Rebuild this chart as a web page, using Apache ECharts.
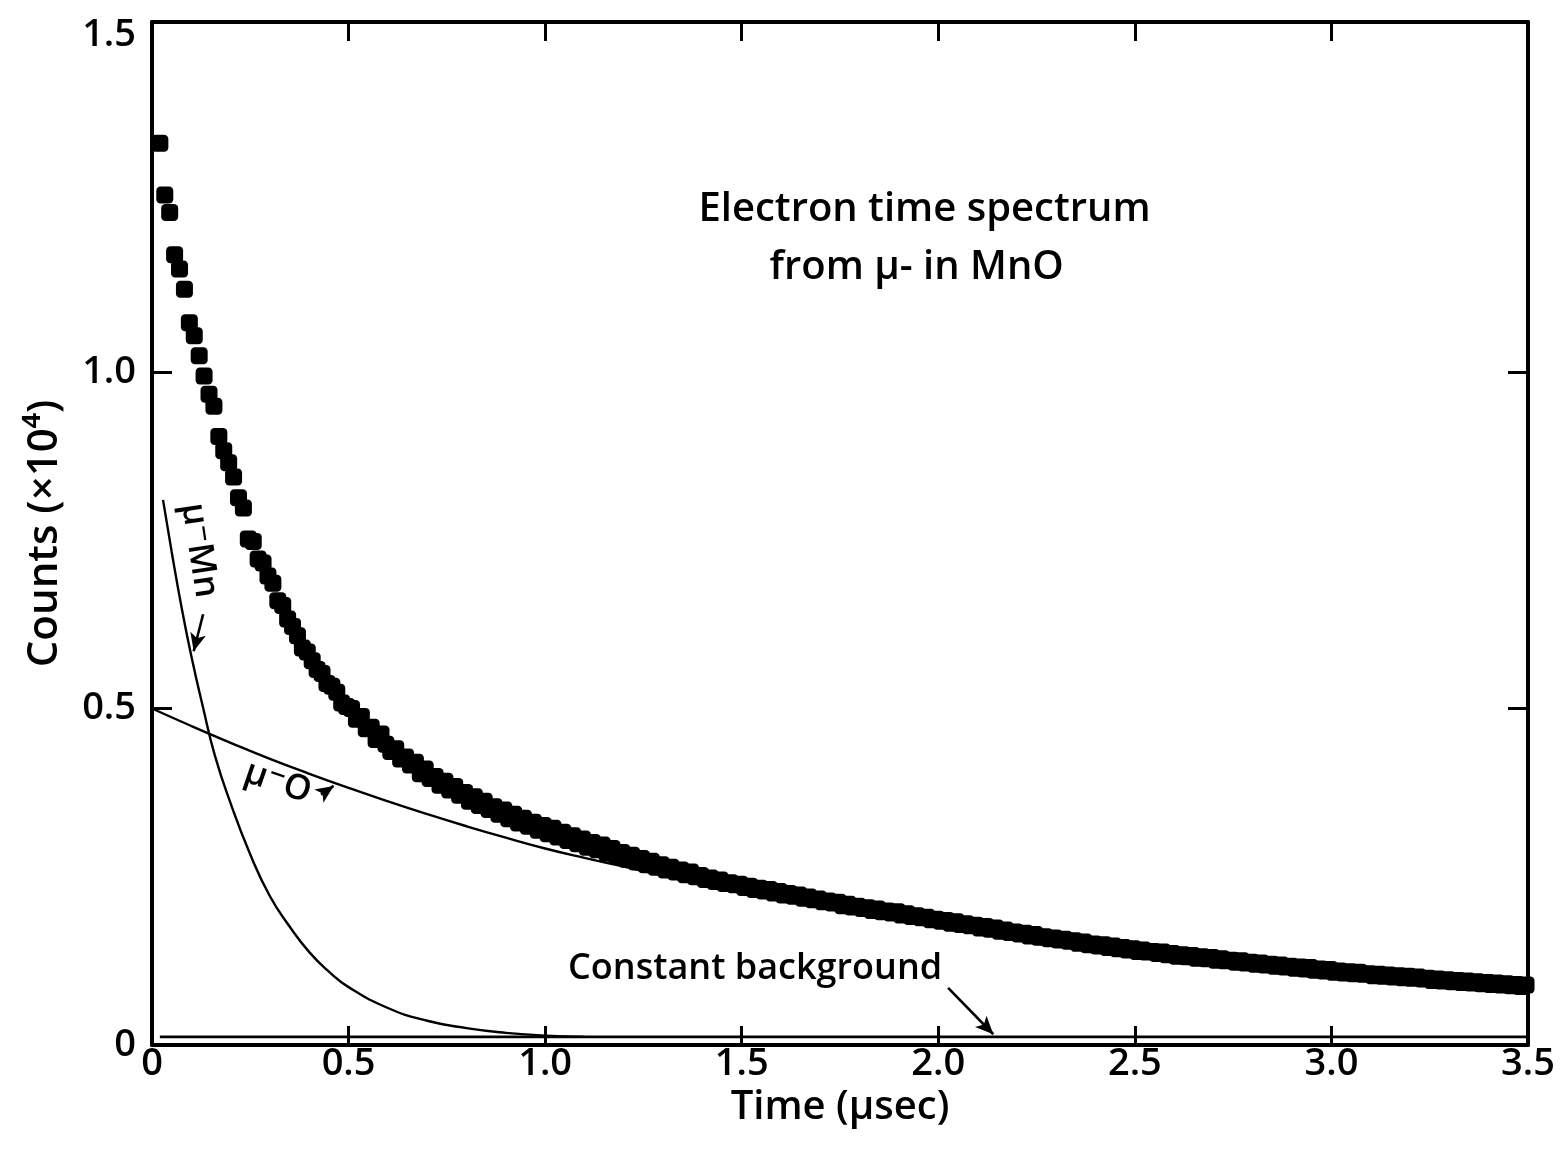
<!DOCTYPE html>
<html><head><meta charset="utf-8">
<script src="https://cdn.jsdelivr.net/npm/echarts@6/dist/echarts.min.js"></script>
<style>html,body{margin:0;padding:0;background:#fff}#c{width:1560px;height:1153px}</style>
</head><body><div id="c"></div>
<script>
// ---- data (counts in units of 10^4) ----
const firstChannelTime = 0.02;   // µsec
const channelWidth = 0.0125;     // µsec
const counts = [
1.340,1.263,1.237,1.174,1.153,1.123,1.073,1.054,1.024,0.994,0.967,0.949,0.904,0.883,0.865,0.844,
0.813,0.798,0.752,0.748,0.722,0.716,0.697,0.686,0.660,0.653,0.633,0.622,0.608,0.590,0.584,0.571,
0.558,0.552,0.537,0.533,0.524,0.508,0.503,0.500,0.484,0.488,0.470,0.472,0.454,0.462,0.447,0.436,
0.440,0.425,0.428,0.416,0.420,0.403,0.410,0.396,0.399,0.386,0.392,0.379,0.384,0.371,0.375,0.362,
0.369,0.356,0.362,0.350,0.354,0.343,0.349,0.336,0.343,0.330,0.337,0.325,0.331,0.319,0.326,0.314,
0.322,0.309,0.316,0.304,0.311,0.299,0.306,0.294,0.301,0.290,0.297,0.285,0.292,0.280,0.286,0.276,
0.282,0.272,0.277,0.268,0.273,0.264,0.268,0.260,0.264,0.257,0.260,0.253,0.257,0.250,0.252,0.246,
0.248,0.243,0.245,0.240,0.241,0.238,0.239,0.234,0.236,0.231,0.233,0.229,0.231,0.226,0.228,0.223,
0.225,0.221,0.223,0.218,0.220,0.216,0.217,0.213,0.214,0.211,0.212,0.207,0.209,0.205,0.206,0.203,
0.204,0.200,0.202,0.198,0.199,0.196,0.198,0.193,0.195,0.191,0.192,0.189,0.190,0.186,0.187,0.184,
0.185,0.181,0.183,0.179,0.180,0.177,0.178,0.174,0.176,0.172,0.174,0.169,0.171,0.167,0.168,0.165,
0.166,0.162,0.164,0.160,0.161,0.158,0.159,0.156,0.157,0.154,0.155,0.151,0.153,0.149,0.150,0.147,
0.149,0.145,0.147,0.143,0.145,0.141,0.143,0.139,0.141,0.138,0.139,0.136,0.138,0.134,0.136,0.132,
0.134,0.131,0.133,0.129,0.131,0.128,0.130,0.126,0.128,0.125,0.126,0.123,0.125,0.122,0.123,0.120,
0.122,0.119,0.120,0.117,0.119,0.116,0.117,0.114,0.116,0.113,0.115,0.111,0.113,0.110,0.112,0.108,
0.110,0.107,0.109,0.106,0.108,0.105,0.106,0.103,0.105,0.102,0.104,0.101,0.103,0.100,0.102,0.099,
0.101,0.098,0.099,0.096,0.098,0.095,0.097,0.094,0.096,0.093,0.095,0.092,0.094,0.091,0.093,0.090,
0.092,0.089,0.091,0.088,0.090,0.087,0.089
];
// fitted μ⁻Mn component
const mnTime   = [0.028,0.05,0.075,0.10,0.13,0.16,0.20,0.25,0.30,0.35,0.40,0.45,0.50,0.60,0.70,0.80,0.90,1.00,1.10];
const mnCounts = [0.810,0.733,0.651,0.578,0.501,0.430,0.359,0.283,0.221,0.176,0.138,0.109,0.086,0.055,0.036,0.025,0.018,0.014,0.012];
// fitted μ⁻O component
const oTime   = [0,0.1,0.2,0.3,0.4,0.5,0.6,0.7,0.8,0.9,1.0,1.1,1.2,1.3,1.35];
const oCounts = [0.500,0.474,0.449,0.425,0.403,0.382,0.362,0.343,0.325,0.308,0.292,0.278,0.265,0.252,0.247];
// constant background
const bgTime   = [0.02, 3.5];
const bgCounts = [0.012, 0.012];
const xTickValues = [0,0.5,1.0,1.5,2.0,2.5,3.0,3.5];
const yTickValues = [0,0.5,1.0,1.5];
const innerTicks = [0.5,1.0,1.5,2.0,2.5,3.0];
const yInnerTicks = [0.5,1.0];

const FONT = '"Open Sans", "DejaVu Sans", sans-serif';
const chart = echarts.init(document.getElementById('c'), null, {renderer:'canvas'});
const fmt = v => v === 0 ? '0' : v.toFixed(1);
const axisLineStyle = {show:true, onZero:false, lineStyle:{color:'#000', width:4}};
const tickStyle = {color:'#000', width:3};
const labelStyle = {color:'#000', fontFamily:FONT, fontSize:38, fontWeight:600};

chart.setOption({
  animation:false,
  backgroundColor:'#fff',
  grid:{left:152, right:32, top:22, bottom:108, containLabel:false},
  xAxis:[
    {type:'value', min:0, max:3.5, interval:0.5, position:'bottom',
     axisLine:axisLineStyle,
     axisTick:{show:true, inside:true, length:19, lineStyle:tickStyle, customValues:innerTicks},
     axisLabel:Object.assign({margin:0, formatter:fmt, customValues:xTickValues}, labelStyle),
     splitLine:{show:false},
     name:'Time (μsec)', nameLocation:'middle', nameGap:37,
     nameTextStyle:Object.assign({}, labelStyle, {fontSize:40})},
    {type:'value', min:0, max:3.5, interval:0.5, position:'top',
     axisLine:axisLineStyle,
     axisTick:{show:true, inside:true, length:19, lineStyle:tickStyle, customValues:innerTicks},
     axisLabel:{show:false}, splitLine:{show:false}}
  ],
  yAxis:[
    {type:'value', min:0, max:1.52, interval:0.5, position:'left',
     axisLine:axisLineStyle,
     axisTick:{show:true, inside:true, length:20, lineStyle:tickStyle, customValues:yInnerTicks},
     axisLabel:Object.assign({margin:16, formatter:fmt, customValues:yTickValues}, labelStyle),
     splitLine:{show:false},
     name:'Counts (×10⁴)', nameLocation:'middle', nameGap:86, nameRotate:90,
     nameTextStyle:Object.assign({}, labelStyle, {fontSize:42})},
    {type:'value', min:0, max:1.52, interval:0.5, position:'right',
     axisLine:axisLineStyle,
     axisTick:{show:true, inside:true, length:20, lineStyle:tickStyle, customValues:yInnerTicks},
     axisLabel:{show:false}, splitLine:{show:false}}
  ],
  series:[
    {type:'line', name:'μ⁻O', data:oTime.map((t,i)=>[t,oCounts[i]]), smooth:true, showSymbol:false,
     lineStyle:{color:'#000', width:2.4}, z:2, silent:true},
    {type:'line', name:'μ⁻Mn', data:mnTime.map((t,i)=>[t,mnCounts[i]]), smooth:true, showSymbol:false,
     lineStyle:{color:'#000', width:2.4}, z:2, silent:true},
    {type:'line', name:'background', data:bgTime.map((t,i)=>[t,bgCounts[i]]), showSymbol:false,
     lineStyle:{color:'#000', width:2.6}, z:2, silent:true,
     markLine:{silent:true, symbol:['none','arrow'], symbolSize:[12,18], label:{show:false},
       lineStyle:{color:'#000', width:2.6, type:'solid'},
       data:[
         [{coord:[2.025,0.085]},{coord:[2.14,0.016]}],
         [{coord:[0.13,0.64]},{coord:[0.106,0.585]}],
         [{coord:[0.43,0.372]},{coord:[0.462,0.385]}]
       ]}},
    {type:'scatter', name:'data', data:counts.map((v,i)=>[firstChannelTime+i*channelWidth, v]),
     symbol:'roundRect', symbolSize:17, itemStyle:{color:'#000', opacity:1}, z:5, silent:true}
  ]
});

function px(t,v){ return chart.convertToPixel({gridIndex:0}, [t,v]); }
function txt(t,v,text,size,rot){
  const p = px(t,v);
  return {type:'text', x:p[0], y:p[1], rotation:rot||0, z:10,
    style:{text:text, fill:'#000', font:'600 '+size+'px '+FONT, align:'center', verticalAlign:'middle'}};
}
chart.setOption({graphic:[
  txt(1.965,1.241,'Electron time spectrum',40),
  txt(1.945,1.155,'from μ- in MnO',40),
  txt(1.534,0.114,'Constant background',36),
  txt(0.12,0.735,'μ⁻Mn',35,-1.42),
  txt(0.32,0.39,'μ⁻O',35,-0.33)
]});
</script>
</body></html>
